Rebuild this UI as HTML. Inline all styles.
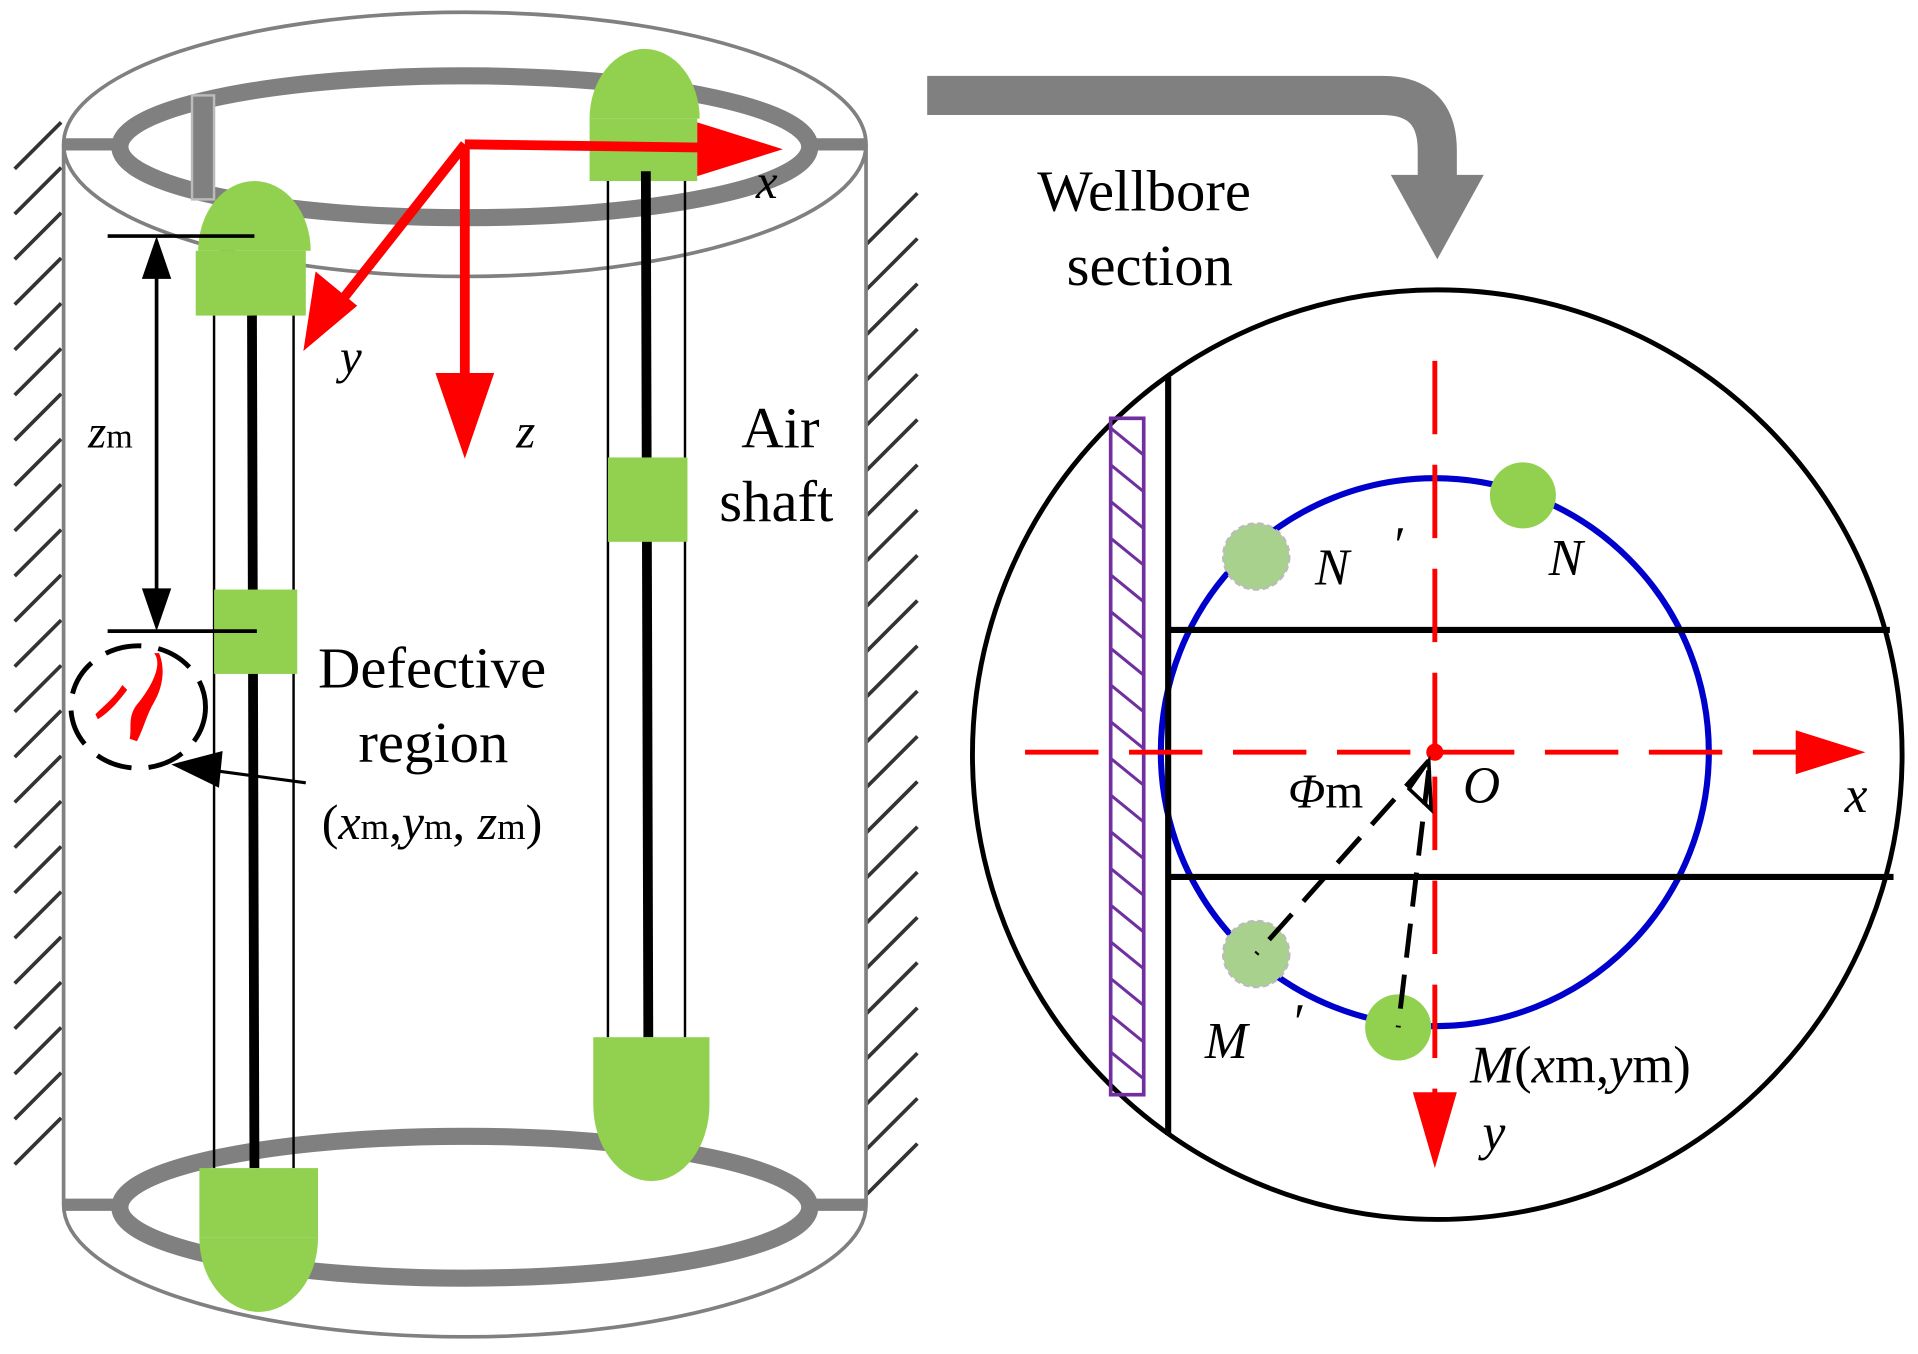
<!DOCTYPE html><html><head><style>html,body{margin:0;padding:0;background:#fff}svg{display:block}</style></head><body>
<svg width="1918" height="1354" viewBox="0 0 1568 1107" preserveAspectRatio="none" xmlns="http://www.w3.org/2000/svg" font-family="'Liberation Serif',serif">
<g stroke="#333" stroke-width="3">
<path d="M12 138l38-38M12 175l38-38M12 212l38-38M12 249l38-38M12 286l38-38M12 323l38-38M12 360l38-38M12 397l38-38M12 434l38-38M12 471l38-38M12 508l38-38M12 545l38-38M12 582l38-38M12 619l38-38M12 656l38-38M12 693l38-38M12 730l38-38M12 767l38-38M12 804l38-38M12 841l38-38M12 878l38-38M12 915l38-38M12 952l38-38"/>
<path d="M708 200l42-42M708 237l42-42M708 274l42-42M708 311l42-42M708 348l42-42M708 385l42-42M708 422l42-42M708 459l42-42M708 496l42-42M708 533l42-42M708 570l42-42M708 607l42-42M708 644l42-42M708 681l42-42M708 718l42-42M708 755l42-42M708 792l42-42M708 829l42-42M708 866l42-42M708 903l42-42M708 940l42-42M708 977l42-42"/>
</g>
<g fill="none" stroke="#808080">
<ellipse cx="380" cy="118" rx="328" ry="108" stroke-width="3"/>
<path d="M52 118V985M708 118V985M52 985A328 108 0 0 0 708 985" stroke-width="3"/>
<ellipse cx="380" cy="120" rx="282" ry="58" stroke-width="14"/>
<ellipse cx="380" cy="987" rx="282" ry="58" stroke-width="14"/>
<path d="M52 118H98M662 118H708M52 985H98M662 985H708" stroke-width="10"/>
</g>
<rect x="157" y="78" width="18" height="85" fill="#808080" stroke="#bbb" stroke-width="2"/>
<g fill="#92d050">
<path d="M162 205a46 57 0 0 1 92 0z"/><rect x="160" y="205" width="90" height="53"/>
<path d="M482 97a45 57 0 0 1 90 0z"/><rect x="482" y="97" width="88" height="51"/>
</g>
<g stroke="#000">
<path d="M175 258V955M240 258V955M497 148V848M560 148V848" stroke-width="2"/>
<path d="M206 258L208 955M528 140L530 848" stroke-width="8"/>
</g>
<g fill="#92d050">
<rect x="175" y="482" width="68" height="69"/>
<rect x="163" y="955" width="97" height="57"/><path d="M163 1012a48 60 0 0 0 97 0z"/>
<rect x="497" y="374" width="65" height="69"/>
<rect x="485" y="848" width="95" height="55"/><path d="M485 903a47 62 0 0 0 95 0z"/>
</g>
<g stroke="red" stroke-width="8" fill="none"><path d="M380 118L600 121M380 118L272 255M380 118V320"/></g>
<g fill="red"><path d="M640 122L570 100L570 144z"/><path d="M248 287L258 222L292 250z"/><path d="M380 375L356 305L404 305z"/></g>
<g font-style="italic" font-size="40"><text x="618" y="162">x</text><text x="278" y="305">y</text><text x="422" y="366">z</text></g>
<g stroke="#000" stroke-width="3"><path d="M88 193H208M88 516H210M128 225V484"/></g>
<path d="M128 193L116 228H140zM128 516L116 481H140z"/>
<text x="72" y="366" font-size="38"><tspan font-style="italic">z</tspan><tspan font-size="28">m</tspan></text>
<ellipse cx="113" cy="578" rx="55" ry="50" fill="none" stroke="#000" stroke-width="4" stroke-dasharray="30 14"/>
<path d="M126 534c8 10-4 30-14 42-8 10-4 20-6 28l6 2c6-12 8-22 14-32 6-10 10-26 4-40zM78 584c8-8 16-14 22-24l4 4c-6 8-14 18-24 24z" fill="red"/>
<path d="M250 640L175 630" stroke="#000" stroke-width="2.5"/><path d="M140 625L182 614L179 644z"/>
<g font-size="48"><text x="260" y="562">Defective</text><text x="293" y="623">region</text><text x="606" y="366">Air</text><text x="588" y="426">shaft</text><text x="848" y="172">Wellbore</text><text x="872" y="233">section</text></g>
<text x="263" y="686" font-size="41">(<tspan font-style="italic">x</tspan><tspan font-size="30">m</tspan>,<tspan font-style="italic">y</tspan><tspan font-size="30">m</tspan>, <tspan font-style="italic">z</tspan><tspan font-size="30">m</tspan>)</text>
<path d="M758 78H1130Q1175 78 1175 123V150" fill="none" stroke="#808080" stroke-width="32"/>
<path d="M1137 143H1213L1175 212z" fill="#808080"/>
<circle cx="1175" cy="617" r="380" fill="none" stroke="#000" stroke-width="4"/>
<circle cx="1173" cy="615" r="224" fill="none" stroke="#0000cc" stroke-width="5"/>
<g stroke="#000" stroke-width="5"><path d="M955 308V928M955 515H1545M955 717H1548"/></g>
<rect x="908" y="342" width="27" height="553" fill="none" stroke="#7030a0" stroke-width="3"/>
<path d="M908 350l27 22M908 380l27 22M908 410l27 22M908 440l27 22M908 470l27 22M908 500l27 22M908 530l27 22M908 560l27 22M908 590l27 22M908 620l27 22M908 650l27 22M908 680l27 22M908 710l27 22M908 740l27 22M908 770l27 22M908 800l27 22M908 830l27 22M908 860l27 22" stroke="#7030a0" stroke-width="2.5"/>
<g stroke="red" stroke-width="4" fill="none" stroke-dasharray="60 25"><path d="M838 615H1475"/><path d="M1173 295V895"/></g>
<path d="M1525 615L1468 597V633z" fill="red"/><path d="M1173 955L1155 893H1191z" fill="red"/>
<circle cx="1173" cy="615" r="7" fill="red"/>
<circle cx="1245" cy="405" r="27" fill="#92d050"/>
<circle cx="1027" cy="455" r="27" fill="#a9d18e" stroke="#bbb" stroke-width="2" stroke-dasharray="5 3"/>
<circle cx="1027" cy="780" r="27" fill="#a9d18e" stroke="#bbb" stroke-width="2" stroke-dasharray="5 3"/>
<circle cx="1143" cy="840" r="27" fill="#92d050"/>
<g stroke="#000" stroke-width="4" stroke-dasharray="28 14" fill="none"><path d="M1168 622L1027 780"/><path d="M1168 630L1143 840"/></g>
<path d="M1152 645L1168 622L1170 662z" fill="none" stroke="#000" stroke-width="3"/>
<g font-style="italic" font-size="42"><text x="1075" y="478">N</text><text x="1140" y="460" font-style="normal">′</text><text x="1266" y="470">N</text><text x="985" y="865">M</text><text x="1058" y="850" font-style="normal">′</text><text x="1196" y="656">O</text><text x="1508" y="664">x</text><text x="1212" y="940">y</text></g>
<text x="1202" y="885" font-size="43"><tspan font-style="italic">M</tspan>(<tspan font-style="italic">x</tspan>m,<tspan font-style="italic">y</tspan>m)</text>
<text x="1053" y="660" font-size="40"><tspan font-style="italic">Φ</tspan>m</text>
</svg></body></html>
